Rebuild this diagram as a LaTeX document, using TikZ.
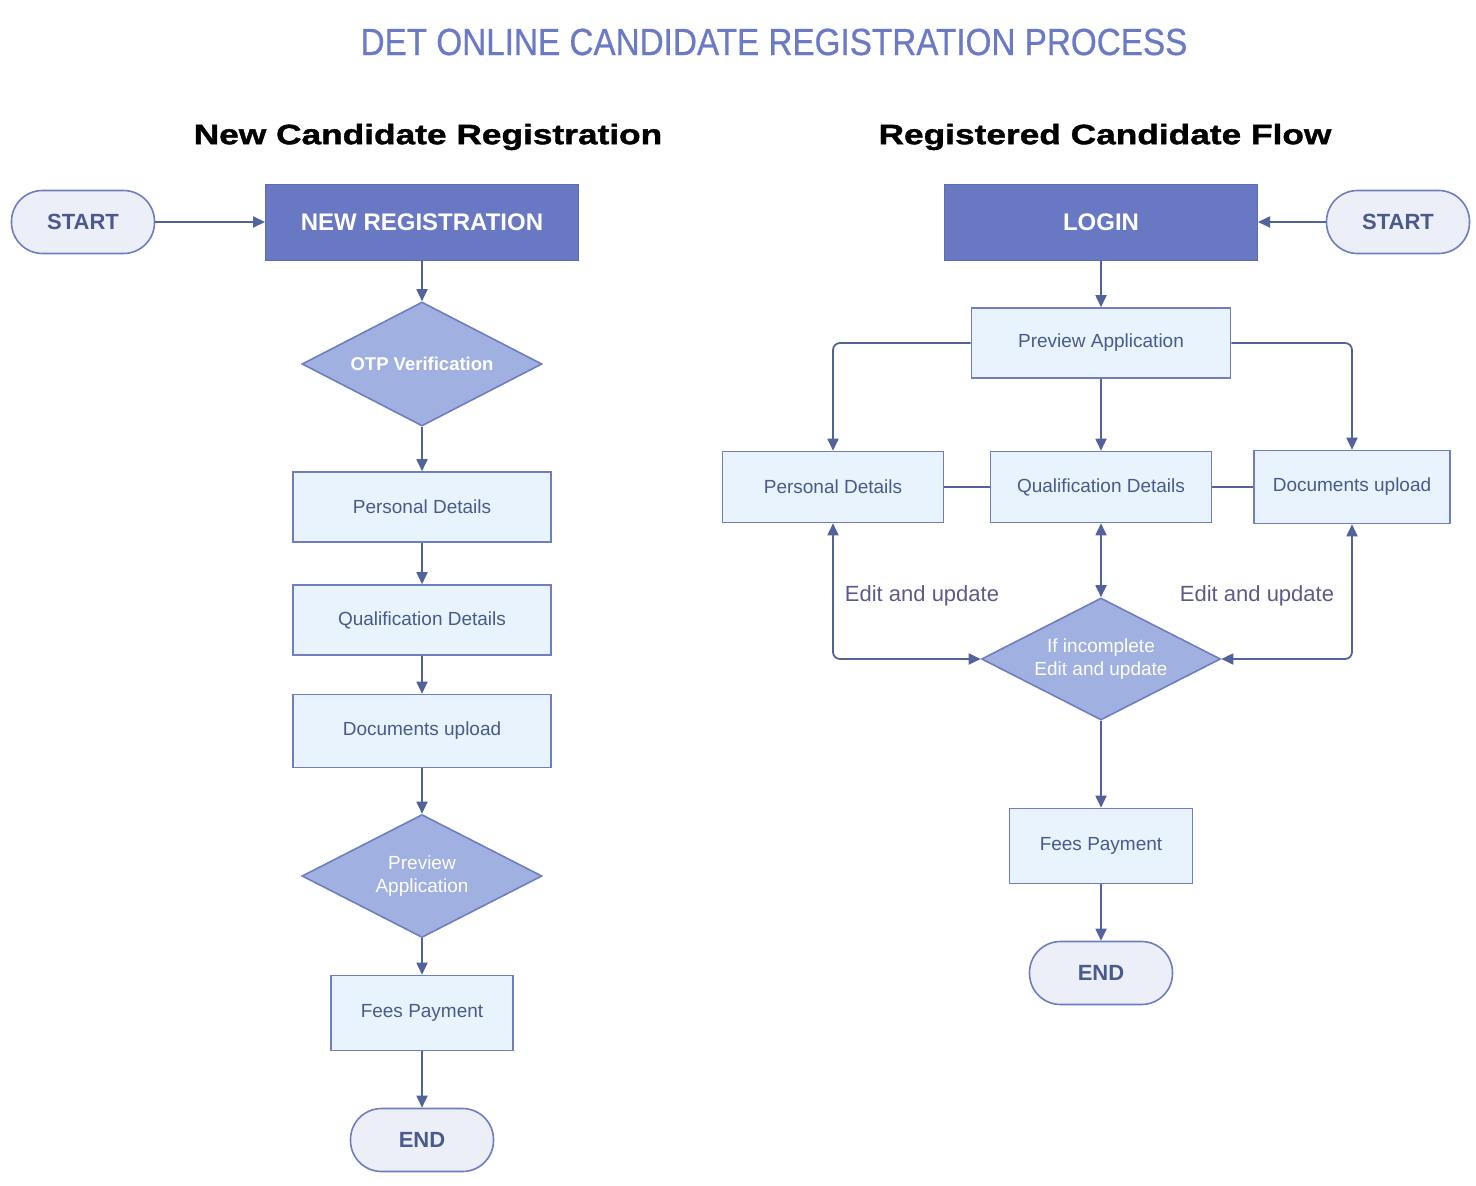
\documentclass[tikz,border=0pt]{standalone}
\usepackage{fontspec}
\setmainfont{Liberation Sans}
\newfontfamily\titlefont[FakeStretch=0.88,FakeBold=0.6]{Liberation Sans}
\newfontfamily\headfont[FakeStretch=1.26,FakeBold=1.4]{Liberation Sans Bold}
\usepackage{tikz}
\usetikzlibrary{arrows.meta}
\usetikzlibrary{shapes.geometric}
\usetikzlibrary{positioning}
\definecolor{titleblue}{HTML}{6B7AC4}
\definecolor{darkfill}{HTML}{6878C3}
\definecolor{diafill}{HTML}{A0B0E1}
\definecolor{boxfill}{HTML}{E9F3FD}
\definecolor{boxline}{HTML}{6E7EC0}
\definecolor{pillfill}{HTML}{ECEEF8}
\definecolor{flowline}{HTML}{52629A}
\definecolor{boxtext}{HTML}{4A5A8C}
\definecolor{notetext}{HTML}{5C5A8A}
\tikzset{pill/.style={draw=boxline,fill=pillfill,line width=1.6pt,rounded corners=31pt,minimum width=143pt,minimum height=63pt,text=boxtext,font=\fontsize{22}{24}\selectfont\bfseries}}
\tikzset{headbox/.style={draw=darkfill!90!black,fill=darkfill,line width=1pt,minimum width=313pt,minimum height=76pt,text=white,font=\fontsize{24}{26}\selectfont\bfseries}}
\tikzset{stepbox/.style={draw=boxline,fill=boxfill,line width=1.6pt,minimum height=70pt,text=boxtext,font=\fontsize{19}{22}\selectfont}}
\tikzset{decision/.style={diamond,aspect=1.94,draw=boxline,fill=diafill,line width=1.6pt,minimum width=240pt,minimum height=124pt,inner sep=0pt,text=white,align=center,font=\fontsize{19}{23}\selectfont}}
\tikzset{note/.style={text=notetext,font=\fontsize{22}{24}\selectfont}}

\begin{document}
\begin{tikzpicture}[%
		x = 1pt, y = -1pt, % pixel grid
		> = {Triangle[length=12pt,width=11pt]}, % arrow head style
		line width = 1.8pt, % line style
		color = flowline
		]
		\useasboundingbox (0,0) rectangle (1476,1186);
		
		% Titles
		\node[text=titleblue,font=\titlefont\fontsize{37.8}{40}\selectfont] (title) at (774,42) {DET ONLINE CANDIDATE REGISTRATION PROCESS};
		\node[text=black,font=\headfont\fontsize{28}{30}\selectfont] (headnew) at (428,137) {New Candidate Registration};
		\node[text=black,font=\headfont\fontsize{28}{30}\selectfont] (headreg) at (1105,137) {Registered Candidate Flow};
		
		% New candidate
		\node[pill] (start1) at (83,222) {START};
		\node[headbox] (newreg) at (422,222) {NEW REGISTRATION};
		\node[decision,font=\fontsize{18.5}{22}\selectfont\bfseries] (otp) at (422,364) {OTP Verification};
		\node[stepbox,minimum width=258pt] (pers1) at (422,507) {Personal Details};
		\node[stepbox,minimum width=258pt] (qual1) at (422,620) {Qualification Details};
		\node[stepbox,minimum width=258pt,minimum height=73pt] (docs1) at (422,731) {Documents upload};
		\node[decision,minimum height=123pt] (prev1) at (422,876) {Preview\\Application};
		\node[stepbox,minimum width=182pt,minimum height=75pt] (fees1) at (422,1013) {Fees Payment};
		\node[pill] (end1) at (422,1140) {END};
		
		\path[->] (start1) edge (newreg);
		\path[->] (newreg) edge (otp);
		\path[->] (otp) edge (pers1);
		\path[->] (pers1) edge (qual1);
		\path[->] (qual1) edge (docs1);
		\path[->] (docs1) edge (prev1);
		\path[->] (prev1) edge (fees1);
		\path[->] (fees1) edge (end1);
		
		% Registered candidate
		\node[headbox] (login) at (1101,222) {LOGIN};
		\node[pill] (start2) at (1398,222) {START};
		\node[stepbox,minimum width=259pt] (prev2) at (1101,343) {Preview Application};
		\node[stepbox,minimum width=221pt,minimum height=71pt] (pers2) at (833,487) {Personal Details};
		\node[stepbox,minimum width=221pt,minimum height=71pt] (qual2) at (1101,487) {Qualification Details};
		\node[stepbox,minimum width=196pt,minimum height=73pt] (docs2) at (1352,487) {Documents upload};
		\node[decision,minimum width=239pt,minimum height=122pt] (check) at (1101,659) {If incomplete\\Edit and update};
		\node[stepbox,minimum width=183pt,minimum height=75pt] (fees2) at (1101,846) {Fees Payment};
		\node[pill] (end2) at (1101,973) {END};
		
		\node[note] (edit1) at (922,596) {Edit and update};
		\node[note] (edit2) at (1257,596) {Edit and update};
		
		\path[->] (start2) edge (login);
		\path[->] (login) edge (prev2);
		\draw[->,rounded corners=7pt] (prev2.west) -| (pers2.north);
		\draw[->] (prev2) -- (qual2);
		\draw[->,rounded corners=7pt] (prev2.east) -| (docs2.north);
		\draw (pers2) -- (qual2);
		\draw (qual2) -- (docs2);
		
		% Edit loops
		\draw[<->] (qual2) -- (check);
		\draw[<->,rounded corners=7pt] (pers2.south) |- (check.west);
		\draw[<->,rounded corners=7pt] (docs2.south) |- (check.east);
		
		\path[->] (check) edge (fees2);
		\path[->] (fees2) edge (end2);
\end{tikzpicture}
\end{document}
